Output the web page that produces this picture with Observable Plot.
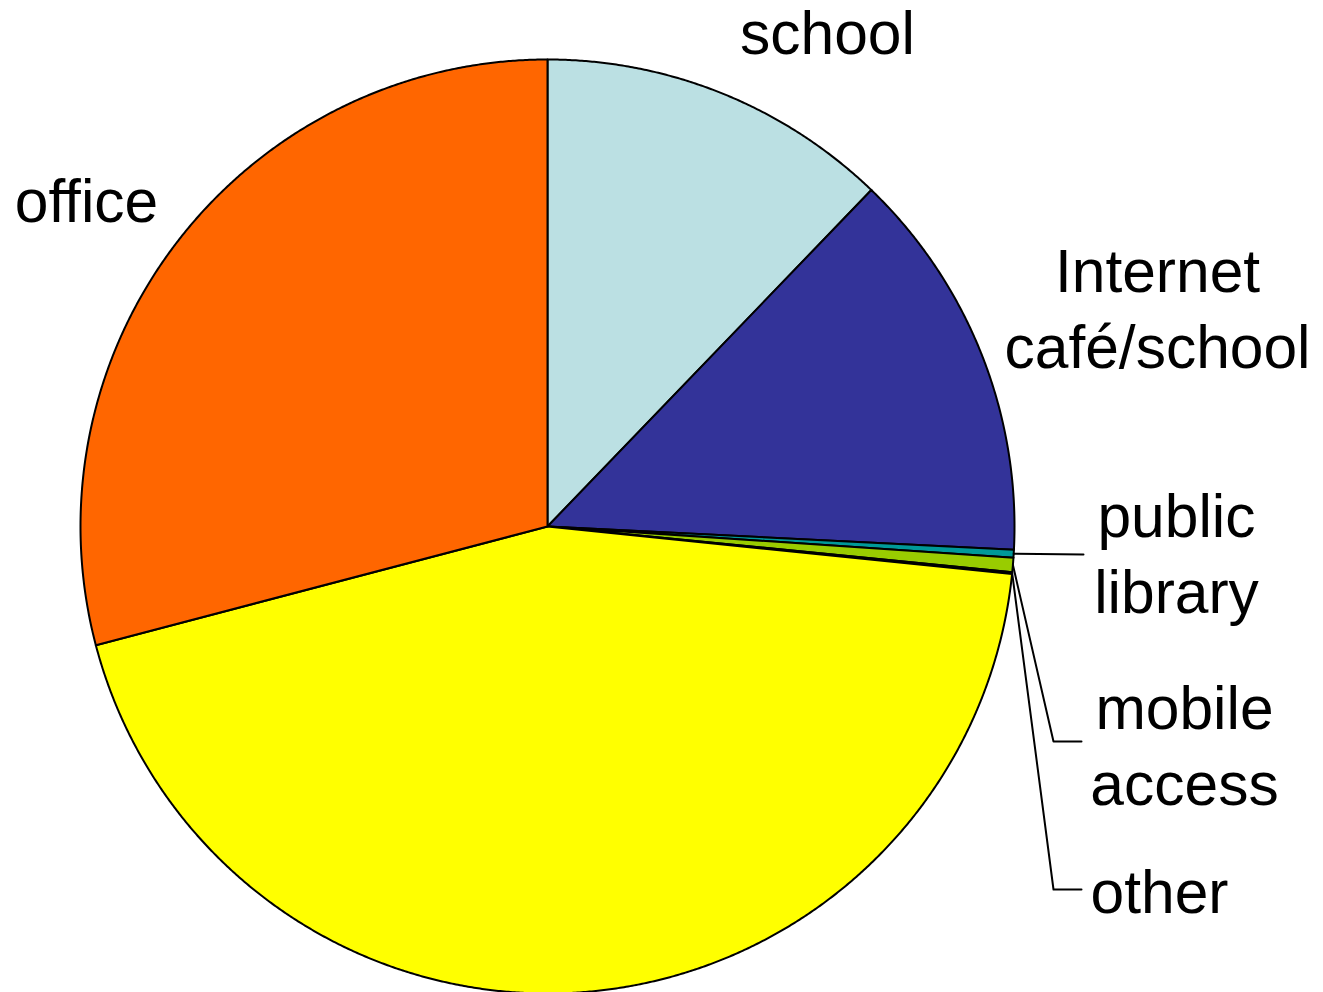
<!DOCTYPE html>
<html><head><meta charset="utf-8">
<script src="https://cdn.jsdelivr.net/npm/d3@7"></script>
<script src="https://cdn.jsdelivr.net/npm/@observablehq/plot@0.6"></script>
<style>html,body{margin:0;padding:0;background:#fff;overflow:hidden}</style>
</head><body><div id="chart"></div>
<script>
// ---- data ----
const categories = ["school", "Internet café/school", "public library", "mobile access", "other", "home", "office"];
const shares = [12.2, 13.6, 0.27, 0.5, 0.06, 44.3, 29.1];
const sliceColors = ["#BBE0E3", "#333399", "#009999", "#99CC00", "#99CC00", "#FFFF00", "#FF6600"];
const labelTexts = ["school", "Internet\ncafé/school", "public\nlibrary", "mobile\naccess", "other", "", "office"];

// ---- layout ----
const W = 1323, H = 992, cx = 547, cy = 526, R = 467;
const labelPos = {
  "school": {x: 827, y: 53},
  "Internet café/school": {x: 1157, y: 367},
  "public library": {x: 1176, y: 612},
  "mobile access": {x: 1184, y: 804},
  "other": {x: 1159, y: 912},
  "office": {x: 86, y: 221}
};
const leaderBends = {
  "public library": [[1083, 554]],
  "mobile access": [[1053, 741], [1081, 741]],
  "other": [[1053, 889], [1081, 889]]
};

const rows = categories.map((name, i) => ({name, value: shares[i], label: labelTexts[i]}));
const arcs = d3.pie().sort(null).value(d => d.value)(rows);

const px = a => cx + R * Math.sin(a);
const py = a => cy - R * Math.cos(a);

const polys = [];
for (const a of arcs) {
  const name = a.data.name;
  polys.push({name, x: cx, y: cy});
  const n = Math.max(2, Math.ceil((a.endAngle - a.startAngle) / (Math.PI / 720)));
  for (let k = 0; k <= n; k++) {
    const t = a.startAngle + (a.endAngle - a.startAngle) * k / n;
    polys.push({name, x: px(t), y: py(t)});
  }
  polys.push({name, x: cx, y: cy});
}

const leaders = [];
for (const a of arcs) {
  const name = a.data.name;
  if (!leaderBends[name]) continue;
  const m = (a.startAngle + a.endAngle) / 2;
  leaders.push({name, x: px(m), y: py(m)});
  for (const [x, y] of leaderBends[name]) leaders.push({name, x, y});
}

const labels = arcs.filter(a => a.data.label).map(a => ({
  text: a.data.label, x: labelPos[a.data.name].x, y: labelPos[a.data.name].y
}));

const chart = Plot.plot({
  width: W, height: H,
  margin: 0,
  x: {domain: [0, W], range: [0, W], axis: null},
  y: {domain: [0, H], range: [0, H], axis: null},
  color: {type: "ordinal", domain: categories, range: sliceColors},
  style: {background: "#fff"},
  marks: [
    Plot.line(polys, {x: "x", y: "y", z: "name", fill: "name", stroke: "#000", strokeWidth: 2, strokeLinejoin: "round", curve: "linear"}),
    Plot.line(leaders, {x: "x", y: "y", z: "name", stroke: "#000", strokeWidth: 2, curve: "linear"}),
    Plot.text(labels, {x: "x", y: "y", text: "text", fontSize: 60.5, lineHeight: 1.24, lineAnchor: "bottom", textAnchor: "middle", fill: "#000", fontFamily: "'Liberation Sans', Arial, sans-serif"})
  ]
});
document.getElementById("chart").appendChild(chart);
</script>
</body></html>
